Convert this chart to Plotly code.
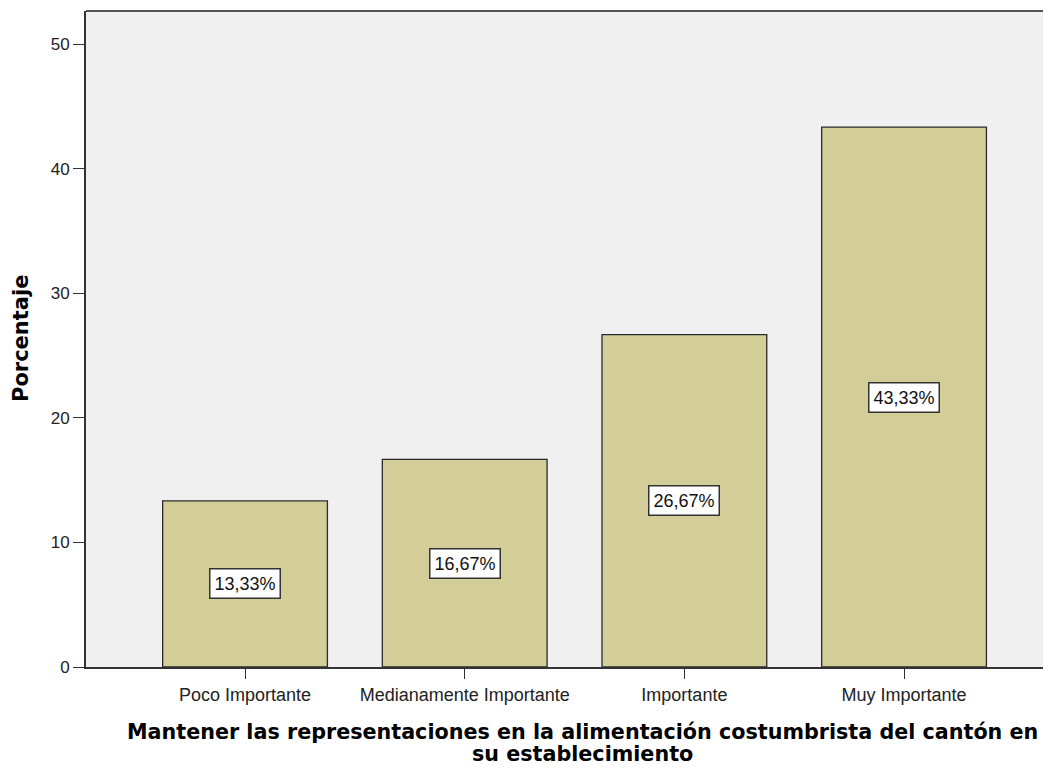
import plotly.graph_objects as go

categorias = ["Poco Importante", "Medianamente Importante", "Importante", "Muy Importante"]
porcentajes = [13.33, 16.67, 26.67, 43.33]
etiquetas = ["13,33%", "16,67%", "26,67%", "43,33%"]
y_ticks = [0, 10, 20, 30, 40, 50]

fig = go.Figure()
fig.add_trace(go.Bar(
    x=list(range(len(categorias))), y=porcentajes, width=0.75,
    marker=dict(color="#D3CE98", line=dict(color="#2a2a2a", width=1.3)),
    hoverinfo="skip", showlegend=False))

# etiquetas con recuadro blanco a mitad de la barra
for i, (v, t) in enumerate(zip(porcentajes, etiquetas)):
    fig.add_annotation(x=i, y=v / 2, text=t, showarrow=False,
                       font=dict(family="Liberation Sans, Arial", size=18, color="#111"),
                       bgcolor="white", bordercolor="#333", borderwidth=1.5, borderpad=4)

# titulo del eje x en dos lineas
titulo_x = ["Mantener las representaciones en la alimentación costumbrista del cantón en",
            "su establecimiento"]
for k, linea in enumerate(titulo_x):
    fig.add_annotation(xref="paper", yref="paper", x=0.515, y=0, yshift=-51 - 22 * k,
                       yanchor="top", text="<b>" + linea + "</b>", showarrow=False,
                       font=dict(family="DejaVu Sans", size=20.7, color="black"))

# titulo del eje y
fig.add_annotation(xref="paper", yref="paper", x=0, y=0.5, xanchor="center", xshift=-65,
                   textangle=-90, text="<b>Porcentaje</b>", showarrow=False,
                   font=dict(family="DejaVu Sans", size=21, color="black"))

# linea superior del marco
fig.add_shape(type="line", xref="paper", yref="paper", x0=0, x1=1, y0=1, y1=1,
              line=dict(color="#555", width=2))

fig.update_layout(
    width=1043, height=761,
    margin=dict(l=78, r=0, t=3, b=102),
    plot_bgcolor="#F0F0F0", paper_bgcolor="white",
    font=dict(family="Liberation Sans, Arial", size=17, color="#222"),
    xaxis=dict(range=[-0.724, 3.669], tickvals=list(range(len(categorias))),
               ticktext=categorias, showgrid=False, zeroline=False,
               showline=True, linecolor="#333", linewidth=2,
               ticks="outside", ticklen=10, tickcolor="#333",
               tickfont=dict(size=18)),
    yaxis=dict(range=[0, 52.65], tickvals=y_ticks, showgrid=False, zeroline=False,
               showline=True, linecolor="#333", linewidth=2,
               ticks="outside", ticklen=11, tickcolor="#333",
               tickfont=dict(size=17)),
)

fig.write_html("out.html")
